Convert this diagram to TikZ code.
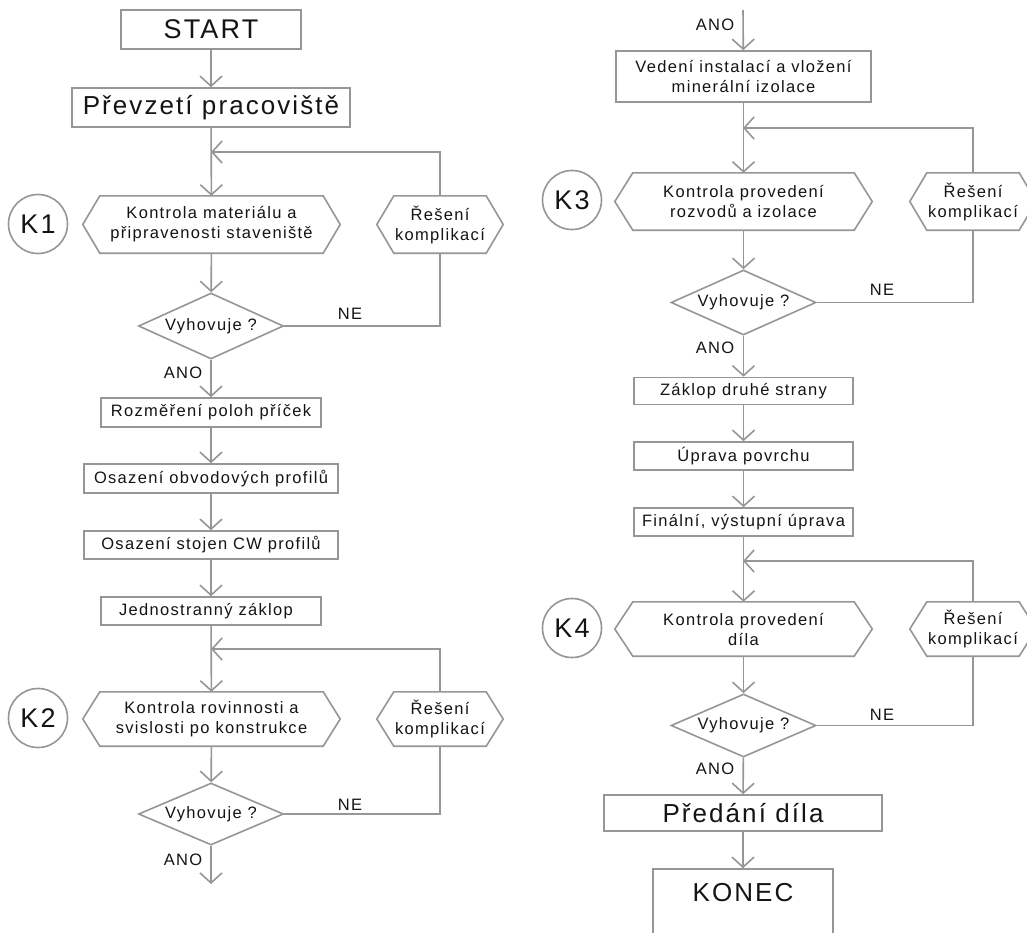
\documentclass[tikz,border=0pt]{standalone}
\usepackage{fontspec}
\setmainfont{Liberation Sans}[LetterSpace=8]
\usetikzlibrary{arrows.meta,shapes.geometric,calc}
\definecolor{lc}{RGB}{150,150,150}
\definecolor{tc}{RGB}{20,20,20}
\tikzset{
  ln/.style={draw=lc,line width=1.6pt},
  arr/.style={ln,-{Straight Barb[length=10pt,width=22pt,line width=1.6pt]}},
  txt/.style={text=tc,font=\fontsize{16.5}{20}\selectfont},
  box/.style={txt,draw=lc,line width=1.6pt,rectangle,inner sep=0pt,align=center},
  bigbox/.style={box,font=\fontsize{26}{30}\selectfont},
  hexn/.style={txt,rectangle,inner sep=0pt,align=center},
  dia/.style={txt,diamond,draw=lc,line width=1.6pt,inner sep=0pt,aspect=2.2,minimum width=145pt},
  kc/.style={circle,draw=lc,line width=1.6pt,minimum size=59pt,inner sep=0pt,text=tc,font=\fontsize{27}{30}\selectfont},
  lab/.style={txt,inner sep=0pt}
}
\newcommand{\hexa}[2]{\draw[ln] ($(#1.north west)+(#2,0)$) -- ($(#1.north east)+(-#2,0)$) -- (#1.east) -- ($(#1.south east)+(-#2,0)$) -- ($(#1.south west)+(#2,0)$) -- (#1.west) -- cycle;}
\begin{document}
\begin{tikzpicture}[x=1pt,y=-1pt]
\useasboundingbox[fill=white] (0,0) rectangle (1027,932);
% ---------- left column ----------
\node[bigbox,font=\fontsize{27}{30}\selectfont,minimum width=180pt,minimum height=39pt] (start) at (211,29.5) {START};
\node[bigbox,minimum width=278pt,minimum height=39pt] (prev) at (211,107.5) {Převzetí pracoviště};
\coordinate (j1) at (211,152);
\node[hexn,minimum width=257pt,minimum height=57pt] (k1) at (211.5,224.5) {Kontrola materiálu a\\připravenosti staveniště};
\hexa{k1}{17}
\node[kc] (c1) at (38,224) {K1};
\node[hexn,minimum width=126pt,minimum height=57pt] (r1) at (440,224.5) {Řešení\\komplikací};
\hexa{r1}{17}
\node[dia,minimum height=66pt] (d1) at (211,326) {Vyhovuje ?};
\node[box,minimum width=220pt,minimum height=29pt] (rozm) at (211,412.5) {Rozměření poloh příček};
\node[box,minimum width=254pt,minimum height=29pt] (obvod) at (211,478.5) {Osazení obvodových profilů};
\node[box,minimum width=254pt,minimum height=28pt] (stojen) at (211,545) {Osazení stojen CW profilů};
\node[box,minimum width=220pt,minimum height=28pt] (jedn) at (211,611) {Jednostranný záklop\hspace{10pt}};
\coordinate (j2) at (211,649);
\node[hexn,minimum width=257pt,minimum height=54pt] (k2) at (211.5,719) {Kontrola rovinnosti a\\svislosti po konstrukce};
\hexa{k2}{17}
\node[kc] (c2) at (38,718) {K2};
\node[hexn,minimum width=126pt,minimum height=54pt] (r2) at (440,719) {Řešení\\komplikací};
\hexa{r2}{17}
\node[dia,minimum height=62pt] (d2) at (211,814) {Vyhovuje ?};
\coordinate (e1) at (211,884);
\node[lab] (a1) at (183,373) {ANO};
\node[lab] (n1) at (350,314) {NE};
\node[lab] (a2) at (183,860) {ANO};
\node[lab] (n2) at (350,805) {NE};
\draw[arr] (start) -- (prev);
\draw[arr] (prev) -- (k1);
\draw[arr] (r1.north) |- (j1);
\draw[arr] (k1) -- (d1);
\draw[ln] (d1.east) -| (r1.south);
\draw[arr] (d1) -- (rozm);
\draw[arr] (rozm) -- (obvod);
\draw[arr] (obvod) -- (stojen);
\draw[arr] (stojen) -- (jedn);
\draw[arr] (jedn) -- (k2);
\draw[arr] (r2.north) |- (j2);
\draw[arr] (k2) -- (d2);
\draw[ln] (d2.east) -| (r2.south);
\draw[arr] (d2) -- (e1);
% ---------- right column ----------
\coordinate (t) at (743,10);
\node[lab] (a0) at (715,25) {ANO};
\node[box,minimum width=255pt,minimum height=51pt] (ved) at (743.5,76.5) {Vedení instalací a vložení\\minerální izolace};
\coordinate (j3) at (743,128);
\node[hexn,minimum width=257pt,minimum height=57pt] (k3) at (743.5,201.5) {Kontrola provedení\\rozvodů a izolace};
\hexa{k3}{18}
\node[kc] (c3) at (572,200) {K3};
\node[hexn,minimum width=126pt,minimum height=57pt] (r3) at (973,201.5) {Řešení\\komplikací};
\hexa{r3}{17}
\node[dia,minimum height=65pt] (d3) at (743.5,302.5) {Vyhovuje ?};
\node[lab] (a3) at (715,348) {ANO};
\node[lab] (n3) at (882,290) {NE};
\node[box,minimum width=219pt,minimum height=27pt] (zak) at (743.5,391) {Záklop druhé strany};
\node[box,minimum width=219pt,minimum height=28pt] (upr) at (743.5,456) {Úprava povrchu};
\node[box,minimum width=219pt,minimum height=28pt] (fin) at (743.5,522) {Finální, výstupní úprava};
\coordinate (j4) at (743,561);
\node[hexn,minimum width=257pt,minimum height=54pt] (k4) at (743.5,629) {Kontrola provedení\\díla};
\hexa{k4}{18}
\node[kc] (c4) at (572,628) {K4};
\node[hexn,minimum width=126pt,minimum height=54pt] (r4) at (973,629) {Řešení\\komplikací};
\hexa{r4}{17}
\node[dia,minimum height=63pt] (d4) at (743.5,725.5) {Vyhovuje ?};
\node[lab] (a4) at (715,769) {ANO};
\node[lab] (n4) at (882,715) {NE};
\node[bigbox,minimum width=278pt,minimum height=36pt] (pred) at (743,813) {Předání díla};
\node[bigbox,minimum width=180pt,minimum height=72pt,text depth=0pt] (kon) at (743,905) {\raisebox{25pt}{KONEC}};
\draw[arr] (t) -- (ved);
\draw[arr] (ved) -- (k3);
\draw[arr] (r3.north) |- (j3);
\draw[arr] (k3) -- (d3);
\draw[ln] (d3.east) -| (r3.south);
\draw[arr] (d3) -- (zak);
\draw[arr] (zak) -- (upr);
\draw[arr] (upr) -- (fin);
\draw[arr] (fin) -- (k4);
\draw[arr] (r4.north) |- (j4);
\draw[arr] (k4) -- (d4);
\draw[ln] (d4.east) -| (r4.south);
\draw[arr] (d4) -- (pred);
\draw[arr] (pred) -- (kon);
\end{tikzpicture}
\end{document}
